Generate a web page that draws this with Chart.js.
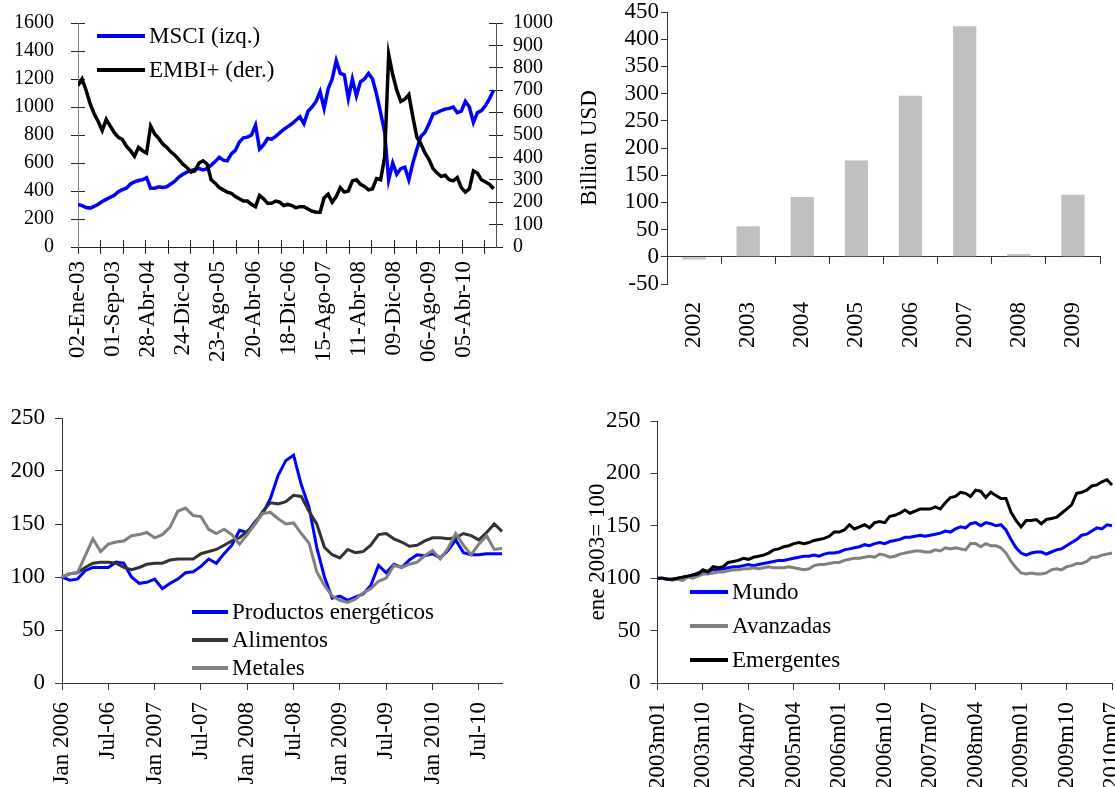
<!DOCTYPE html>
<html><head><meta charset="utf-8">
<script src="https://cdn.jsdelivr.net/npm/chart.js@4.4.1/dist/chart.umd.min.js"></script>
<style>
html,body{margin:0;padding:0;background:#fff;}
body{width:1115px;height:787px;position:relative;overflow:hidden;font-family:'Liberation Serif','Times New Roman',serif;}
canvas{position:absolute;}
.legend{position:absolute;font-family:'Liberation Serif','Times New Roman',serif;font-size:23px;color:#000;}
.legend .row{display:flex;align-items:center;white-space:nowrap;}
.legend .sw{display:inline-block;flex:none;}
</style></head><body>
<canvas id="c1" width="560" height="390" style="left:0;top:0"></canvas>
<canvas id="c2" width="555" height="390" style="left:560px;top:0"></canvas>
<canvas id="c3" width="560" height="397" style="left:0;top:390px"></canvas>
<canvas id="c4" width="555" height="397" style="left:560px;top:390px"></canvas>
<div id="lg1" class="legend" style="left:97px;top:19px"></div>
<div id="lg3" class="legend" style="left:192px;top:598px"></div>
<div id="lg4" class="legend" style="left:690px;top:575px"></div>
<script>
// ---------------- DATA ----------------
// Chart 1: MSCI (left) and EMBI+ (right), read every 20 business days from 02-Ene-03
const dailyStep = 20;
const dailyAxisMax = 2072;
const dailyTickStep = 112;
const dailyLabelStep = 174;
const dailyLabels = ['02-Ene-03','01-Sep-03','28-Abr-04','24-Dic-04','23-Ago-05','20-Abr-06','18-Dic-06','15-Ago-07','11-Abr-08','09-Dic-08','06-Ago-09','05-Abr-10'];
const msciValues = [
 305,295,282,278,290,305,325,340,355,370,
 395,410,420,450,465,475,480,495,420,420,
 430,425,430,450,470,500,520,535,545,555,
 560,550,560,585,610,640,620,615,665,690,
 750,780,785,800,870,700,730,775,770,790,
 815,840,860,880,905,930,880,970,1000,1040,
 1110,990,1130,1200,1330,1240,1230,1060,1200,1080,
 1180,1200,1240,1200,1090,960,820,480,600,520,
 560,570,480,600,700,790,820,880,950,960,
 975,985,990,1000,960,970,1040,1000,890,960,
 975,1010,1060,1120];
const embiValues = [
 720,750,700,640,595,560,520,570,540,510,
 490,480,450,430,405,445,430,420,540,505,
 485,460,445,425,410,390,370,355,335,340,
 375,385,370,300,285,265,255,245,240,225,
 215,205,205,190,180,230,215,195,195,205,
 200,185,190,185,175,180,180,170,160,155,
 155,220,235,200,225,265,245,250,295,300,
 280,270,255,260,305,300,400,860,770,700,
 650,660,680,580,490,460,420,390,350,330,
 315,320,300,295,310,265,245,260,340,330,
 300,290,280,260];

// Chart 2: yearly flows, billion USD
const flowYears = ['2002','2003','2004','2005','2006','2007','2008','2009'];
const flowValues = [-5, 56, 110, 177, 296, 424, 5, 114];

// Chart 3: commodity price indices, monthly Jan 2006 - Oct 2010
const commodityTickLabels = ['Jan 2006','Jul-06','Jan 2007','Jul-07','Jan 2008','Jul-08','Jan 2009','Jul-09','Jan 2010','Jul-10'];
const energyValues = [100,97,98,106,109,109,109,114,113,100,94,95,98,89,94,98,104,105,110,117,113,122,130,144,142,152,160,174,196,210,215,187,166,128,100,80,82,78,81,84,92,111,104,112,109,116,121,120,122,118,125,135,123,121,121,122,122,122];
const foodValues = [100,103,104,109,113,114,114,113,109,107,109,112,113,113,116,117,117,117,122,124,126,130,134,137,143,150,162,170,169,171,177,176,162,150,128,121,118,126,123,124,130,140,141,136,133,129,130,134,137,137,136,137,141,139,135,142,150,143];
const metalValues = [100,103,104,120,136,124,131,133,134,139,140,142,137,140,147,162,165,158,157,145,141,145,140,131,140,150,160,161,155,150,151,141,132,105,92,82,78,76,79,85,89,96,99,111,109,112,114,120,125,117,127,141,130,121,131,139,126,127];

// Chart 4: equity indices, ene 2003 = 100, monthly 2003m01 - 2010m07
const equityTickLabels = ['2003m01','2003m10','2004m07','2005m04','2006m01','2006m10','2007m07','2008m04','2009m01','2009m10','2010m07'];
const worldValues = [
 100,100,99,99,100,101,102,103,105,106,107,108,
 108,109,110,111,111,112,113,112,113,114,115,116,
 117,117,118,119,120,121,121,122,121,123,124,124,
 125,127,128,129,130,132,131,133,134,133,135,136,
 137,139,139,140,141,140,141,142,143,145,144,147,
 149,148,152,153,150,153,152,150,151,146,137,129,
 124,122,124,125,125,123,125,127,128,131,134,137,
 141,142,145,148,147,151,150];
const advancedValues = [
 100,100,99,98,99,98,101,100,102,104,104,105,
 106,106,107,108,108,109,109,110,109,110,111,110,
 110,110,111,110,109,108,109,112,113,113,114,115,
 115,117,118,119,119,120,121,120,123,122,120,121,
 123,124,125,126,126,125,125,127,126,129,128,129,
 128,127,133,133,130,133,131,131,129,124,116,110,
 105,104,105,104,104,105,108,109,108,111,112,114,
 114,116,120,120,122,123,124];
const emergingValues = [
 100,100,99,99,100,101,102,103,104,108,106,111,
 110,111,115,116,117,119,118,120,121,122,124,127,
 128,130,131,133,134,133,134,136,137,138,140,144,
 144,146,151,147,149,151,148,153,154,153,159,160,
 162,165,162,164,166,166,166,168,166,172,177,178,
 182,181,178,184,183,177,182,179,176,176,163,155,
 149,155,155,156,152,156,157,158,162,166,170,181,
 182,184,188,189,192,194,189];

// ---------------- HELPERS ----------------
Chart.defaults.font.family = "'Liberation Serif', 'Times New Roman', serif";
Chart.defaults.font.size = 23;
Chart.defaults.color = '#000';
function fixW(w){return s=>{s.width=w;s.paddingTop=0;s.paddingBottom=0;s.paddingLeft=0;s.paddingRight=0;};}
function fixH(h){return s=>{s.height=h;s.paddingLeft=0;s.paddingRight=0;s.paddingTop=0;s.paddingBottom=0;};}
function steps(max, step){const a=[];for(let v=0;v<=max;v+=step)a.push({value:v});return a;}
const plain = v => String(v);
function legend(id, items, swW, rowH){
  const el=document.getElementById(id);
  items.forEach(it=>{
    const r=document.createElement('div');r.className='row';r.style.height=rowH+'px';
    const s=document.createElement('span');s.className='sw';
    s.style.width=swW+'px';s.style.height='4px';s.style.background=it.borderColor;s.style.marginRight='4px';
    const t=document.createElement('span');t.textContent=it.label;
    r.appendChild(s);r.appendChild(t);el.appendChild(r);
  });
}
const base={responsive:false,animation:false,devicePixelRatio:1,events:[],
  plugins:{legend:{display:false},tooltip:{enabled:false}}};

// ---------------- CHART 1 ----------------
const ds1=[
  {label:'MSCI (izq.)',data:msciValues.map((v,i)=>({x:i*dailyStep,y:v})),borderColor:'#0000ff',borderWidth:3.5,pointRadius:0,xAxisID:'x',yAxisID:'y',order:1},
  {label:'EMBI+ (der.)',data:embiValues.map((v,i)=>({x:i*dailyStep,y:v})),borderColor:'#000000',borderWidth:3.5,pointRadius:0,xAxisID:'x',yAxisID:'y2',order:0}
];
new Chart(document.getElementById('c1'),{type:'line',data:{datasets:ds1},
 options:Object.assign({},base,{layout:{padding:{top:23,left:0,right:0,bottom:0}},
  scales:{
   x:{type:'linear',position:'bottom',weight:0,min:0,max:dailyAxisMax,
      afterBuildTicks:s=>{s.ticks=steps(dailyAxisMax,dailyTickStep);},
      ticks:{display:false},grid:{drawOnChartArea:false,tickLength:7,color:'#222'},border:{color:'#222'},afterFit:fixH(0)},
   xIn:{type:'linear',position:'bottom',weight:0,min:0,max:dailyAxisMax,
      afterBuildTicks:s=>{s.ticks=steps(dailyAxisMax,dailyTickStep);},
      ticks:{display:false},grid:{drawOnChartArea:false,tickLength:-7,color:'#222'},border:{display:false},afterFit:fixH(0)},
   xLab:{type:'linear',position:'bottom',weight:2,min:0,max:dailyAxisMax,
      afterBuildTicks:s=>{s.ticks=steps(dailyAxisMax,dailyLabelStep).slice(0,dailyLabels.length);},
      ticks:{autoSkip:false,minRotation:90,maxRotation:90,padding:14,font:{size:23},callback:(v,i)=>dailyLabels[i]},
      grid:{display:false,drawTicks:false},border:{display:false},afterFit:fixH(143)},
   y:{position:'left',weight:1,min:0,max:1600,ticks:{stepSize:200,autoSkip:false,padding:17,font:{size:20},callback:plain},
      grid:{drawOnChartArea:false,tickLength:7,color:'#222'},border:{color:'#808080'},afterFit:fixW(78)},
   yIn:{position:'left',weight:0,min:0,max:1600,ticks:{stepSize:200,autoSkip:false,display:false},
      grid:{drawOnChartArea:false,tickLength:-7,color:'#222'},border:{display:false},afterFit:fixW(0)},
   y2:{position:'right',weight:1,min:0,max:1000,ticks:{stepSize:100,autoSkip:false,padding:10,font:{size:20},callback:plain},
      grid:{drawOnChartArea:false,tickLength:7,color:'#222'},border:{color:'#555'},afterFit:fixW(64)},
   y2In:{position:'right',weight:0,min:0,max:1000,ticks:{stepSize:100,autoSkip:false,display:false},
      grid:{drawOnChartArea:false,tickLength:-7,color:'#222'},border:{display:false},afterFit:fixW(0)}
  }})});
legend('lg1',ds1,48,34);

// ---------------- CHART 2 ----------------
new Chart(document.getElementById('c2'),{type:'bar',
 data:{labels:flowYears,datasets:[{label:'Billion USD',data:flowValues,backgroundColor:'#c0c0c0',
   barPercentage:0.43,categoryPercentage:1,xAxisID:'x',yAxisID:'y'}]},
 options:Object.assign({},base,{layout:{padding:{top:12,left:0,right:15,bottom:0}},
  scales:{
   x:{type:'category',position:{y:0},offset:true,ticks:{display:false},
      grid:{offset:true,drawOnChartArea:false,tickLength:7,color:'#333'},border:{color:'#333'},afterFit:fixH(0)},
   x2:{type:'category',position:'bottom',offset:true,
      ticks:{autoSkip:false,minRotation:90,maxRotation:90,padding:18,font:{size:23}},
      grid:{display:false,drawTicks:false},border:{display:false},afterFit:fixH(106)},
   y:{position:'left',min:-50,max:450,ticks:{stepSize:50,autoSkip:false,padding:2,font:{size:23},callback:plain},
      title:{display:true,text:'Billion USD',font:{size:23},padding:{top:16,bottom:0}},
      grid:{drawOnChartArea:false,tickLength:6,color:'#333'},border:{color:'#333'},afterFit:fixW(107)}
  }})});

// ---------------- CHART 3 ----------------
const commodityMonths = energyValues.map((_,k)=>{const y=2006+Math.floor(k/12),m=k%12+1;return y+'-'+(m<10?'0':'')+m;});
const ds3=[
  {label:'Productos energéticos',data:energyValues,borderColor:'#0000ff',borderWidth:3,pointRadius:0,order:2},
  {label:'Alimentos',data:foodValues,borderColor:'#333333',borderWidth:3,pointRadius:0,order:1},
  {label:'Metales',data:metalValues,borderColor:'#808080',borderWidth:3,pointRadius:0,order:0}
];
new Chart(document.getElementById('c3'),{type:'line',data:{labels:commodityMonths,datasets:ds3},
 options:Object.assign({},base,{layout:{padding:{top:28,left:0,right:58,bottom:0}},
  scales:{
   x:{type:'category',offset:false,
      afterBuildTicks:s=>{s.ticks=s.ticks.filter(t=>t.value%6===0);},
      ticks:{autoSkip:false,minRotation:90,maxRotation:90,padding:12,font:{size:23},callback:(v,i)=>commodityTickLabels[i]},
      grid:{drawOnChartArea:false,tickLength:7,color:'#333'},border:{color:'#333'},afterFit:fixH(104)},
   y:{min:0,max:250,ticks:{stepSize:50,autoSkip:false,padding:10,font:{size:23},callback:plain},
      grid:{drawOnChartArea:false,tickLength:7,color:'#333'},border:{color:'#333'},afterFit:fixW(62)}
  }})});
legend('lg3',ds3,36,28);

// ---------------- CHART 4 ----------------
const equityMonths = worldValues.map((_,k)=>{const y=2003+Math.floor(k/12),m=k%12+1;return y+'m'+(m<10?'0':'')+m;});
const ds4=[
  {label:'Mundo',data:worldValues,borderColor:'#0000ff',borderWidth:3,pointRadius:0,order:2},
  {label:'Avanzadas',data:advancedValues,borderColor:'#808080',borderWidth:3,pointRadius:0,order:1},
  {label:'Emergentes',data:emergingValues,borderColor:'#000000',borderWidth:3,pointRadius:0,order:0}
];
new Chart(document.getElementById('c4'),{type:'line',data:{labels:equityMonths,datasets:ds4},
 options:Object.assign({},base,{layout:{padding:{top:31,left:0,right:3,bottom:0}},
  scales:{
   x:{type:'category',offset:false,
      afterBuildTicks:s=>{s.ticks=s.ticks.filter(t=>t.value%9===0);},
      ticks:{autoSkip:false,minRotation:90,maxRotation:90,padding:12,font:{size:23},callback:(v,i)=>equityTickLabels[i]},
      grid:{drawOnChartArea:false,tickLength:7,color:'#333'},border:{color:'#333'},afterFit:fixH(104)},
   y:{min:0,max:250,ticks:{stepSize:50,autoSkip:false,padding:10,font:{size:23},callback:plain},
      title:{display:true,text:'ene 2003= 100',font:{size:23},padding:{top:24,bottom:0}},
      grid:{drawOnChartArea:false,tickLength:7,color:'#333'},border:{color:'#333'},afterFit:fixW(97.5)}
  }})});
legend('lg4',ds4,38,34);
</script>
</body></html>
